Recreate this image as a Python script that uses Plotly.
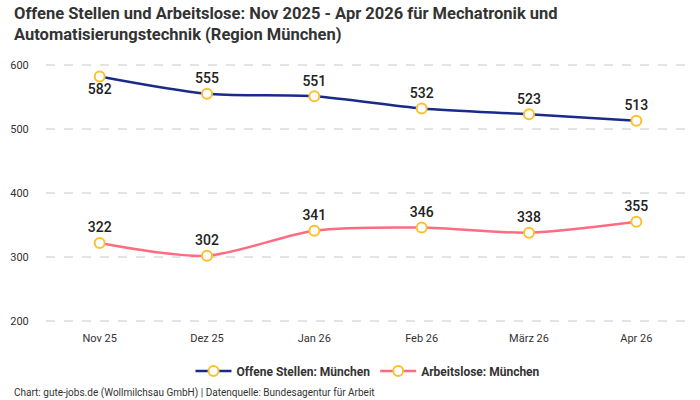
import plotly.graph_objects as go

months = ["Nov 25", "Dez 25", "Jan 26", "Feb 26", "März 26", "Apr 26"]
offene = [582, 555, 551, 532, 523, 513]
arbeitslose = [322, 302, 341, 346, 338, 355]
y_ticks = [200, 300, 400, 500, 600]
offene_pos = ["bottom center", "top center", "top center", "top center", "top center", "top center"]
arb_pos = ["top center"] * 6

FONT = "Roboto, 'Noto Sans', sans-serif"
TOP, BOT = 55, 323  # plot area pixel rows
PH = BOT - TOP
PXU = 0.64  # pixels per unit
GRID = "#c8c8c8"

fig = go.Figure()
fig.add_trace(go.Scatter(
    x=months, y=offene, name="<b>Offene Stellen: München</b>",
    mode="lines+markers+text", line=dict(color="#1a2a8a", width=2.5, shape="spline", smoothing=0.8),
    marker=dict(size=10, color="white", line=dict(color="#fbc02d", width=2)),
    text=[str(v) for v in offene], textposition=offene_pos,
    textfont=dict(size=14, color="#222222", family=FONT, weight=500), cliponaxis=False))
fig.add_trace(go.Scatter(
    x=months, y=arbeitslose, name="<b>Arbeitslose: München</b>",
    mode="lines+markers+text", line=dict(color="#ff6b81", width=2.5, shape="spline", smoothing=0.8),
    marker=dict(size=10, color="white", line=dict(color="#fbc02d", width=2)),
    text=[str(v) for v in arbeitslose], textposition=arb_pos,
    textfont=dict(size=14, color="#222222", family=FONT, weight=500), cliponaxis=False))

for t in y_ticks:
    fig.add_hline(y=t, line=dict(color=GRID, width=1, dash="dash"), layer="below")

fig.update_layout(
    width=700, height=400,
    margin=dict(l=44, r=10, t=TOP, b=400 - BOT),
    paper_bgcolor="white", plot_bgcolor="white",
    font=dict(family=FONT, color="#333333"),
    showlegend=True,
    legend=dict(orientation="h", x=0.5, xanchor="center", xref="paper",
                yref="container", y=1 - 371/400, yanchor="middle",
                font=dict(size=12, color="#333333", family=FONT), itemwidth=36),
    xaxis=dict(showgrid=False, showline=False, ticks="outside", ticklen=5, tickcolor="white",
               tickfont=dict(size=11, color="#333333"), range=[-0.5, 5.5]),
    yaxis=dict(range=[200 - 2 / PXU, 200 + (PH - 2) / PXU], tickvals=y_ticks, showgrid=False,
               zeroline=False, showline=False, ticks="outside", ticklen=14, tickcolor="white",
               tickfont=dict(size=11, color="#333333")),
    annotations=[
        dict(text="<b>Offene Stellen und Arbeitslose: Nov 2025 - Apr 2026 für Mechatronik und<br>Automatisierungstechnik (Region München)</b>",
             xref="paper", yref="paper", x=-34/646, y=1 + (TOP - 2) / PH, xanchor="left", yanchor="top",
             align="left", showarrow=False, font=dict(size=16.5, color="#333333", family=FONT)),
        dict(text="Chart: gute-jobs.de (Wollmilchsau GmbH) | Datenquelle: Bundesagentur für Arbeit",
             xref="paper", yref="paper", x=-34/646, y=-(393 - BOT) / PH, xanchor="left", yanchor="middle",
             showarrow=False, font=dict(size=10, color="#333333", family=FONT))],
)

fig.write_html("out.html")
